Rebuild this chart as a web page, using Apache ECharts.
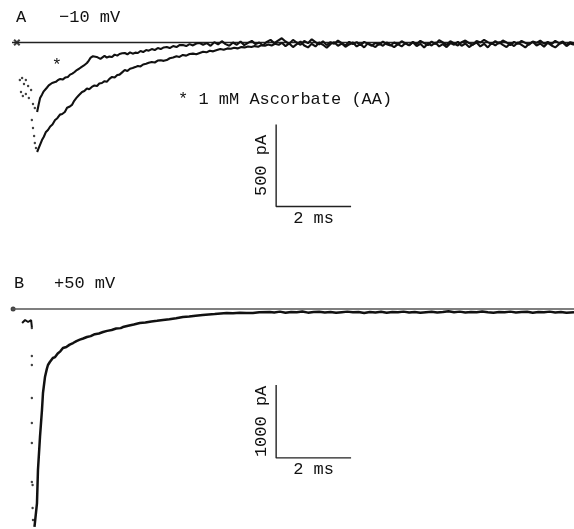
<!DOCTYPE html>
<html>
<head>
<meta charset="utf-8">
<script src="https://cdn.jsdelivr.net/npm/echarts@6/dist/echarts.min.js"></script>
<style>
  html, body { margin: 0; padding: 0; background: #fff; }
  #chart { width: 574px; height: 529px; }
</style>
</head>
<body>
<div id="chart"></div>
<script>
// ---- Panel A (-10 mV): control current and current with 1 mM ascorbate, [ms, pA]
const ctlA = [
  [0.67,-668],[0.72,-640],[0.77,-612],[0.80,-595],[0.85,-575],[0.90,-548],[0.96,-534],[1.02,-512],
  [1.08,-500],[1.15,-473],[1.21,-462],[1.28,-440],[1.34,-436],[1.41,-424],[1.47,-398],[1.53,-392],
  [1.60,-381],[1.66,-356],[1.72,-338],[1.79,-320],[1.87,-302],[1.93,-296],[2.00,-280],[2.06,-285],
  [2.13,-271],[2.20,-262],[2.27,-265],[2.33,-250],[2.40,-247],[2.47,-236],[2.53,-240],[2.60,-222],
  [2.67,-210],[2.74,-214],[2.81,-198],[2.87,-196],[2.94,-182],[3.01,-168],[3.08,-174],[3.15,-160],
  [3.22,-156],[3.29,-150],[3.36,-143],[3.43,-146],[3.50,-134],[3.58,-130],[3.65,-124],[3.73,-119],
  [3.81,-122],[3.89,-110],[3.97,-108],[4.05,-112],[4.13,-107],[4.21,-96],[4.30,-92],[4.39,-84],
  [4.47,-88],[4.56,-76],[4.65,-80],[4.74,-70],[4.83,-68],[4.92,-72],[5.01,-64],[5.10,-56],
  [5.19,-60],[5.28,-50],[5.37,-54],[5.47,-46],[5.56,-40],[5.65,-44],[5.75,-36],[5.84,-38],
  [5.93,-32],[6.02,-36],[6.12,-28],[6.21,-30],[6.30,-24],[6.39,-28],[6.48,-22],[6.57,-26],
  [6.66,-16],[6.75,-20],[6.84,-12],[6.93,-18],[7.02,-8],[7.12,-14],
  [7.2,-2],[7.3,-22],[7.4,-6],[7.5,-28],[7.6,-10],[7.7,6],[7.8,-18],[7.9,-30],[8.0,-8],[8.1,-24],
  [8.2,0],[8.3,-14],[8.4,-32],[8.5,-10],[8.6,2],[8.7,-20],[8.8,-6],[8.9,-26],[9.0,-12],[9.1,0],
  [9.2,-24],[9.3,-10],[9.4,-30],[9.5,-4],[9.6,-16],[9.7,-28],[9.8,-6],[9.9,-20],[10.0,0],[10.1,-14],
  [10.2,-28],[10.3,-10],[10.4,-24],[10.5,-4],[10.6,-18],[10.7,2],[10.8,-22],[10.9,-8],[11.0,-30],
  [11.1,-6],[11.2,-18],[11.3,0],[11.4,-24],[11.5,-10],[11.6,-28],[11.7,-4],[11.8,-14],[11.9,4],
  [12.0,-20],[12.1,-6],[12.2,-28],[12.3,-12],[12.4,0],[12.5,-24],[12.6,-8],[12.7,-30],[12.8,-4],
  [12.9,-18],[13.0,2],[13.1,-14],[13.2,-28],[13.3,-6],[13.4,-22],[13.5,0],[13.6,-14],[13.7,-30],
  [13.8,-8],[13.9,4],[14.0,-18],[14.1,-6],[14.2,-26],[14.3,-2],[14.4,-18],[14.5,-30],[14.6,-10],
  [14.7,0],[14.8,-22],[14.9,-6],[15.0,-14]
];
const aaA = [
  [0.67,-424],[0.71,-380],[0.75,-339],[0.80,-318],[0.84,-300],[0.88,-290],[0.93,-276],[0.98,-262],
  [1.02,-258],[1.07,-247],[1.12,-236],[1.17,-240],[1.23,-229],[1.29,-222],[1.35,-226],[1.42,-214],
  [1.49,-210],[1.55,-196],[1.61,-190],[1.67,-180],[1.73,-168],[1.79,-160],[1.85,-150],[1.92,-140],
  [2.00,-125],[2.05,-110],[2.10,-92],[2.16,-84],[2.21,-76],[2.26,-88],[2.31,-92],[2.36,-100],
  [2.40,-95],[2.47,-82],[2.53,-92],[2.60,-86],[2.67,-88],[2.74,-74],[2.81,-80],[2.87,-70],
  [2.94,-66],[3.01,-64],[3.08,-72],[3.15,-60],[3.22,-68],[3.29,-62],[3.36,-64],[3.43,-52],
  [3.50,-58],[3.58,-46],[3.65,-50],[3.73,-40],[3.81,-46],[3.89,-34],[3.97,-40],[4.05,-30],
  [4.13,-27],[4.21,-34],[4.30,-22],[4.39,-28],[4.47,-16],[4.56,-15],[4.65,-22],[4.74,-10],
  [4.83,-18],[4.92,-6],[5.01,-3],[5.10,-14],
  [5.2,-4],[5.3,-20],[5.4,2],[5.5,-12],[5.6,8],[5.7,-10],[5.8,-20],[5.9,0],[6.0,-14],[6.1,6],
  [6.2,-16],[6.3,-2],[6.4,10],[6.5,-10],[6.6,0],[6.7,-18],[6.8,4],[6.9,16],[7.0,-4],[7.1,12],
  [7.2,26],[7.3,6],[7.4,-8],[7.5,16],[7.6,0],[7.7,-14],[7.8,10],[7.9,-4],[8.0,20],[8.1,2],
  [8.2,-12],[8.3,8],[8.4,-16],[8.5,2],[8.6,-8],[8.7,12],[8.8,-4],[8.9,-18],[9.0,4],[9.1,-10],
  [9.2,2],[9.3,-16],[9.4,4],[9.5,-8],[9.6,-20],[9.7,-2],[9.8,-14],[9.9,6],[10.0,-10],[10.1,-18],
  [10.2,0],[10.3,-12],[10.4,8],[10.5,-6],[10.6,-16],[10.7,4],[10.8,-10],[10.9,10],[11.0,-4],
  [11.1,-16],[11.2,6],[11.3,-10],[11.4,14],[11.5,0],[11.6,-14],[11.7,8],[11.8,-6],[11.9,-18],
  [12.0,2],[12.1,12],[12.2,-4],[12.3,-14],[12.4,10],[12.5,0],[12.6,16],[12.7,2],[12.8,-10],
  [12.9,8],[13.0,-6],[13.1,12],[13.2,0],[13.3,-16],[13.4,4],[13.5,-8],[13.6,10],[13.7,-2],
  [13.8,-14],[13.9,6],[14.0,-2],[14.1,12],[14.2,-8],[14.3,4],[14.4,-10],[14.5,10],[14.6,-4],
  [14.7,6],[14.8,-14],[14.9,2],[15.0,-6]
];
// sparse samples during the capacity transient
const aaADots = [
  [0.21,-229],[0.27,-217],[0.32,-253],[0.37,-229],[0.43,-265],[0.24,-302],[0.29,-326],
  [0.37,-314],[0.45,-339],[0.51,-290],[0.56,-375],[0.61,-400]
];
const ctlADots = [[0.53,-473],[0.56,-522],[0.59,-570],[0.61,-613],[0.64,-644]];

// ---- Panel B (+50 mV), [ms, pA]
const traceB = [
  [0.60,-2986],[0.613,-2959],[0.667,-2658],[0.693,-2206],[0.747,-1754],[0.80,-1384],[0.827,-1151],
  [0.88,-932],[0.93,-820],[0.96,-767],[1.01,-726],[1.09,-671],[1.15,-658],[1.22,-610],[1.29,-580],
  [1.36,-534],[1.45,-520],[1.54,-488],[1.63,-466],[1.72,-440],[1.81,-420],[1.90,-404],[2.00,-384],
  [2.10,-372],[2.21,-345],[2.32,-335],[2.43,-315],[2.54,-300],[2.66,-288],[2.78,-268],[2.90,-262],
  [2.96,-247],[3.10,-230],[3.25,-212],[3.41,-192],[3.56,-185],[3.72,-170],[3.87,-162],[4.03,-151],
  [4.20,-140],[4.38,-126],[4.56,-110],[4.73,-104],[4.90,-92],[5.09,-82],[5.25,-76],[5.41,-70],
  [5.57,-62],[5.73,-55],[5.90,-58],[6.08,-50],[6.25,-54],[6.43,-55],[6.60,-44],[6.88,-41],
  [7.0,-48],[7.15,-36],[7.3,-52],[7.45,-40],[7.6,-46],[7.75,-34],[7.9,-50],[8.05,-42],[8.2,-38],
  [8.35,-48],[8.5,-40],[8.65,-52],[8.8,-44],[8.95,-36],[9.1,-46],[9.25,-42],[9.4,-54],[9.55,-40],
  [9.7,-48],[9.85,-38],[10.0,-50],[10.15,-42],[10.3,-46],[10.45,-36],[10.6,-48],[10.75,-40],
  [10.9,-52],[11.05,-44],[11.2,-38],[11.35,-48],[11.5,-42],[11.65,-30],[11.8,-44],[11.95,-36],
  [12.1,-48],[12.25,-40],[12.4,-46],[12.55,-34],[12.7,-44],[12.85,-50],[13.0,-40],[13.15,-46],
  [13.3,-36],[13.45,-48],[13.6,-42],[13.75,-38],[13.9,-50],[14.05,-40],[14.2,-46],[14.35,-36],
  [14.5,-48],[14.65,-42],[14.8,-52],[15.0,-46]
];
const dotsB = [
  [0.53,-260],[0.53,-644],[0.53,-767],[0.53,-1219],[0.53,-1562],[0.53,-1836],
  [0.53,-2370],[0.55,-2411],[0.55,-2726],[0.56,-2891]
];
const blipB = [[0.27,-192],[0.35,-151],[0.43,-178],[0.51,-151],[0.53,-247]];

// start-of-sweep markers
const startA = [[0.13, 0]];
const startB = [[0.03, 0]];

// scale bars: [time of corner (ms), current of corner (pA), length in ms, length in pA]
const barA = [7.05, -1000, 2, 500];
const barB = [7.05, -2040, 2, 1000];

// text
const panelTitles = ['A', 'B'];
const voltages = ['\u221210 mV', '+50 mV'];
const barLabelsA = ['500 pA', '2 ms'];
const barLabelsB = ['1000 pA', '2 ms'];
const aaMark = '*';
const aaLegend = '* 1 mM Ascorbate (AA)';
const aaMarkPos = [1.20, -120];
const aaLegendPos = [4.43, -350];

// ---- layout
const plotLeft = 12;
const tMax = 15;
const pxPerPA_A = 1 / 6.1, zeroA = 42.5, yMaxA = 100, yMinA = -1100;
const pxPerPA_B = 1 / 13.7, zeroB = 309, yMaxB = 200, yMinB = -3000;

const INK = '#111';
const FONT = '"Liberation Mono", "DejaVu Sans Mono", monospace';
const FONT_SIZE = 17;

function scaleBar(bar) {
  const [t, i, dt, di] = bar;
  return [[t, i + di], [t, i], [t + dt, i]];
}

const chart = echarts.init(document.getElementById('chart'), null, { renderer: 'canvas' });

const axisOff = { show: false };
const option = {
  animation: false,
  backgroundColor: '#fff',
  grid: [
    { left: plotLeft, right: 0, top: zeroA - yMaxA * pxPerPA_A, height: (yMaxA - yMinA) * pxPerPA_A },
    { left: plotLeft, right: 0, top: zeroB - yMaxB * pxPerPA_B, height: (yMaxB - yMinB) * pxPerPA_B }
  ],
  xAxis: [
    { type: 'value', gridIndex: 0, min: 0, max: tMax, ...axisOff },
    { type: 'value', gridIndex: 1, min: 0, max: tMax, ...axisOff }
  ],
  yAxis: [
    { type: 'value', gridIndex: 0, min: yMinA, max: yMaxA, ...axisOff },
    { type: 'value', gridIndex: 1, min: yMinB, max: yMaxB, ...axisOff }
  ],
  series: [
    // zero-current lines
    { type: 'line', xAxisIndex: 0, yAxisIndex: 0, data: [[0, 0], [tMax, 0]], showSymbol: false,
      lineStyle: { color: '#222', width: 1.3 }, silent: true },
    { type: 'line', xAxisIndex: 1, yAxisIndex: 1, data: [[0, 0], [tMax, 0]], showSymbol: false,
      lineStyle: { color: '#555', width: 1.6 }, silent: true },
    // panel A traces
    { name: 'Control', type: 'line', xAxisIndex: 0, yAxisIndex: 0, data: ctlA, showSymbol: false,
      lineStyle: { color: INK, width: 2.1 } },
    { name: 'AA', type: 'line', xAxisIndex: 0, yAxisIndex: 0, data: aaA, showSymbol: false,
      lineStyle: { color: INK, width: 2.1 } },
    { type: 'scatter', xAxisIndex: 0, yAxisIndex: 0, data: aaADots.concat(ctlADots),
      symbolSize: 2.4, itemStyle: { color: INK } },
    { type: 'scatter', xAxisIndex: 0, yAxisIndex: 0, data: startA, symbolSize: 7,
      symbol: 'path://M0,2L2,0L5,3L8,0L10,2L7,5L10,8L8,10L5,7L2,10L0,8L3,5Z', itemStyle: { color: INK } },
    // panel B trace
    { name: '+50 mV', type: 'line', xAxisIndex: 1, yAxisIndex: 1, data: traceB, showSymbol: false,
      lineStyle: { color: INK, width: 2.5 } },
    { type: 'scatter', xAxisIndex: 1, yAxisIndex: 1, data: dotsB, symbolSize: 2.4, itemStyle: { color: INK } },
    { type: 'line', xAxisIndex: 1, yAxisIndex: 1, data: blipB, showSymbol: false,
      lineStyle: { color: INK, width: 2 } },
    { type: 'scatter', xAxisIndex: 1, yAxisIndex: 1, data: startB, symbolSize: 5, itemStyle: { color: INK } },
    // scale bars
    { type: 'line', xAxisIndex: 0, yAxisIndex: 0, data: scaleBar(barA), showSymbol: false,
      lineStyle: { color: '#222', width: 1.4 } },
    { type: 'line', xAxisIndex: 1, yAxisIndex: 1, data: scaleBar(barB), showSymbol: false,
      lineStyle: { color: '#222', width: 1.4 } }
  ]
};
chart.setOption(option);

// text placed relative to the data it annotates
function px(grid, pt) { return chart.convertToPixel({ gridIndex: grid }, pt); }
function txt(p, s, align, rot) {
  const el = {
    type: 'text', x: p[0], y: p[1],
    style: { text: s, font: FONT_SIZE + 'px ' + FONT, fill: INK, align: align || 'left', verticalAlign: 'middle' }
  };
  if (rot) el.rotation = rot;
  return el;
}

const a0 = px(0, [0, 0]);
const b0 = px(1, [0, 0]);
const aVert = px(0, [barA[0], barA[1] + barA[3] / 2]);
const aHor = px(0, [barA[0] + barA[2] / 2, barA[1]]);
const bVert = px(1, [barB[0], barB[1] + barB[3] / 2]);
const bHor = px(1, [barB[0] + barB[2] / 2, barB[1]]);
const starPt = px(0, aaMarkPos);
const legPt = px(0, aaLegendPos);

chart.setOption({
  graphic: [
    txt([a0[0] + 4, a0[1] - 25], panelTitles[0]),
    txt([a0[0] + 47, a0[1] - 25], voltages[0]),
    txt([b0[0] + 2, b0[1] - 26], panelTitles[1]),
    txt([b0[0] + 42, b0[1] - 26], voltages[1]),
    txt([starPt[0], starPt[1] + 3], aaMark, 'center'),
    txt([legPt[0], legPt[1]], aaLegend),
    txt([aVert[0] - 15, aVert[1]], barLabelsA[0], 'center', Math.PI / 2),
    txt([aHor[0], aHor[1] + 12], barLabelsA[1], 'center'),
    txt([bVert[0] - 15, bVert[1]], barLabelsB[0], 'center', Math.PI / 2),
    txt([bHor[0], bHor[1] + 12], barLabelsB[1], 'center')
  ]
});
</script>
</body>
</html>
